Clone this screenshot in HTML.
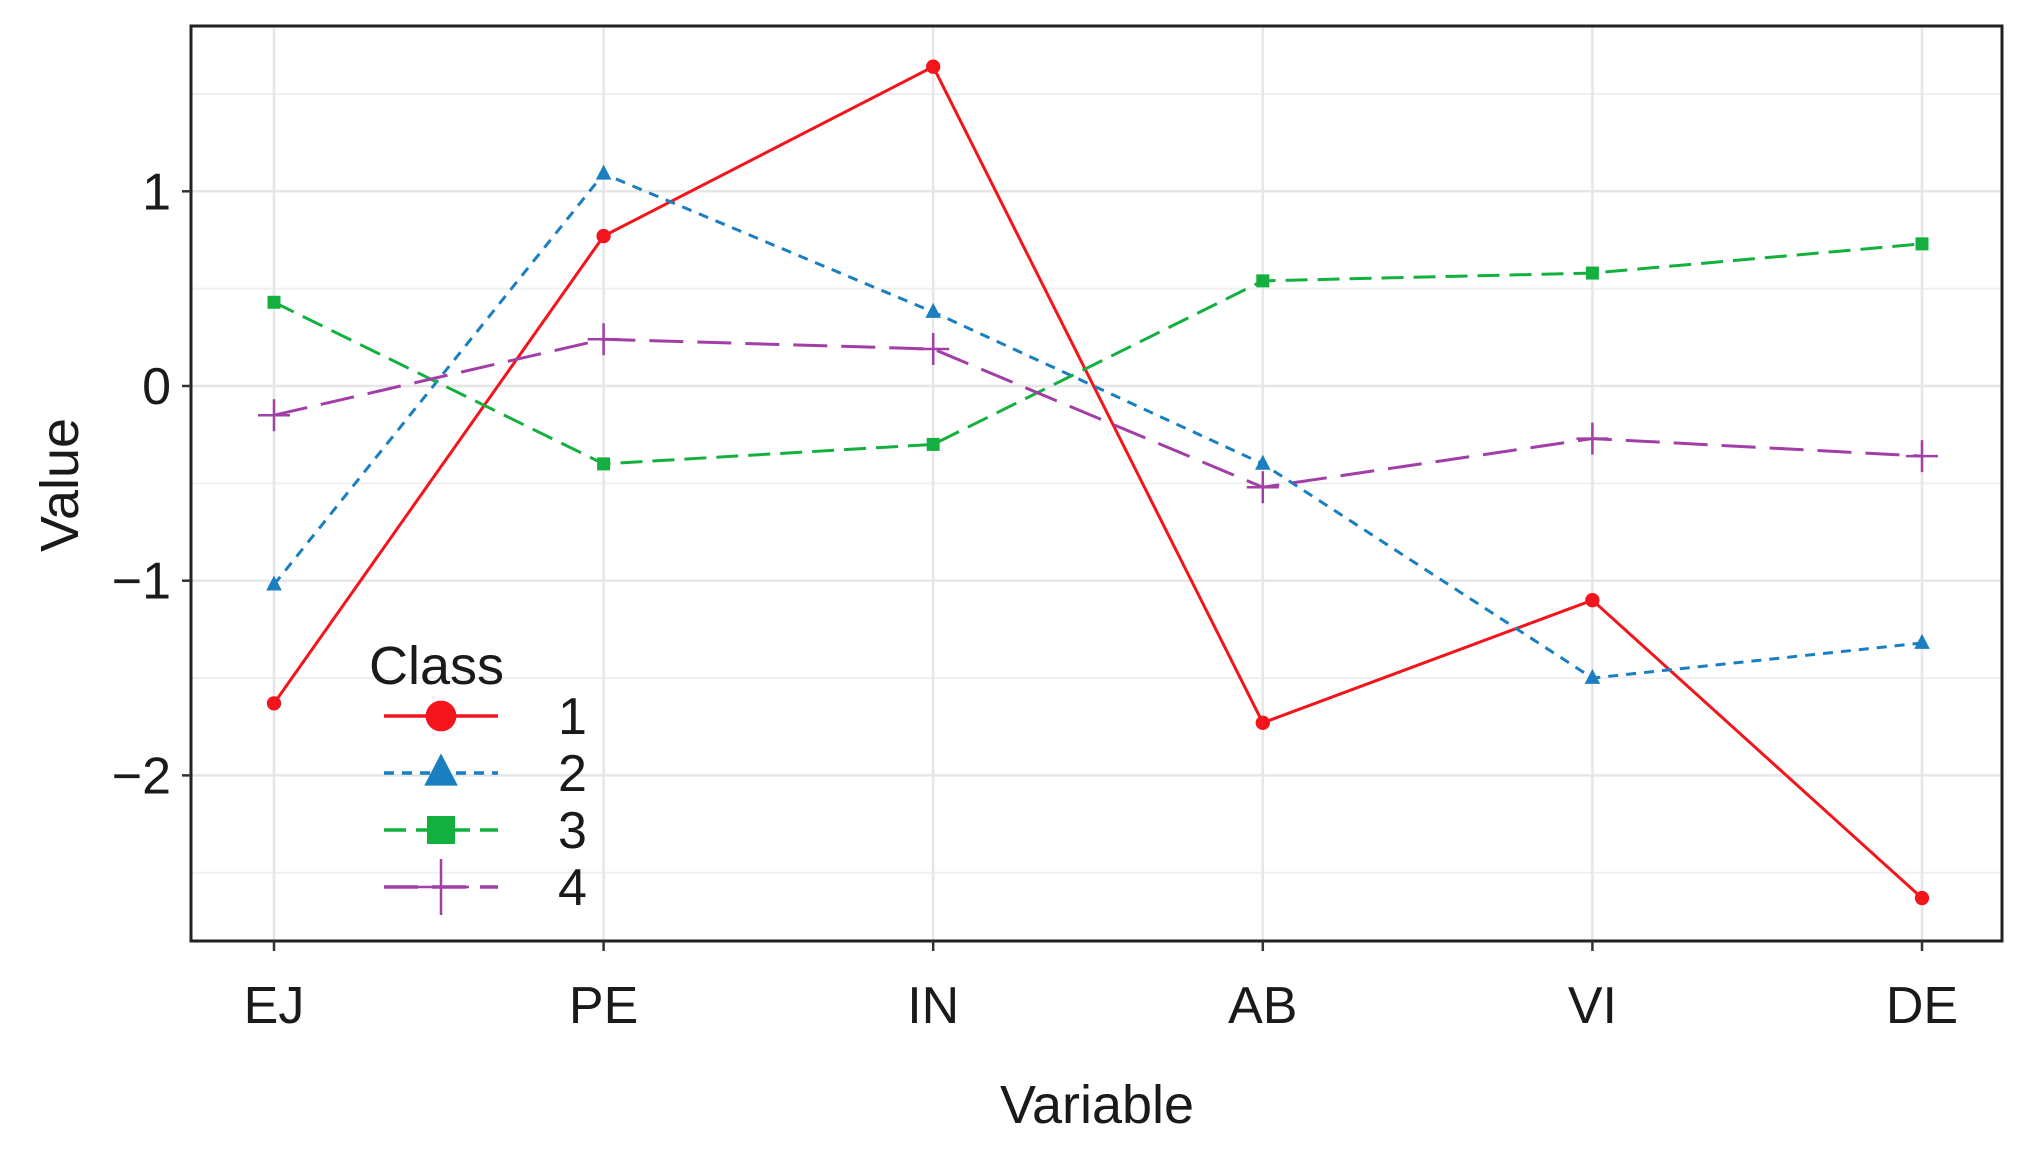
<!DOCTYPE html>
<html><head><meta charset="utf-8"><style>
body{margin:0;background:#fff}
svg{display:block;font-family:"Liberation Sans",sans-serif}
</style></head><body>
<svg id="c" width="2028" height="1168" viewBox="0 0 2028 1168"></svg>
<script>
const categories=["EJ","PE","IN","AB","VI","DE"];
const s1=[-1.63,0.77,1.64,-1.73,-1.1,-2.63];
const s2=[-1.02,1.09,0.38,-0.4,-1.5,-1.32];
const s3=[0.43,-0.4,-0.3,0.54,0.58,0.73];
const s4=[-0.15,0.24,0.19,-0.52,-0.27,-0.36];
const yTicks=[1,0,-1,-2];
const yTickLabels=["1","0","\u22121","\u22122"];
const minorTicks=[1.5,0.5,-0.5,-1.5,-2.5];
const classLabels=["1","2","3","4"];

const NS="http://www.w3.org/2000/svg";
const svg=document.getElementById('c');
const L=191,T=26,R=2002,B=941;
const x0=274,dx=329.6;
const X=i=>x0+i*dx;
const Y=v=>386-v*194.7;
function mk(tag,attrs,parent){const e=document.createElementNS(NS,tag);for(const k in attrs)e.setAttribute(k,attrs[k]);(parent||svg).appendChild(e);return e;}

minorTicks.forEach(v=>{const l=mk('line',{x1:L,x2:R,y1:Y(v),y2:Y(v),stroke:'#f0f0f0','stroke-width':2});

});
yTicks.forEach(v=>{const l=mk('line',{x1:L,x2:R,y1:Y(v),y2:Y(v),stroke:'#e6e6e6','stroke-width':2.5});

});
categories.forEach((c,i)=>{const l=mk('line',{x1:X(i),x2:X(i),y1:T,y2:B,stroke:'#e6e6e6','stroke-width':2.5});

});

const series=[
 {d:s1,c:'#f3141c',dash:'',m:'circle'},
 {d:s2,c:'#1a7fc0',dash:'10,8',m:'tri'},
 {d:s3,c:'#13b03f',dash:'22,10',m:'sq'},
 {d:s4,c:'#a13fa6',dash:'34,14',m:'plus'}];
function marker(type,x,y,c,s,g){
 if(type==='circle')return mk('circle',{cx:x,cy:y,r:s*0.55,fill:c},g);
 if(type==='tri')return mk('polygon',{points:`${x},${y-s*0.7} ${x-s*0.6},${y+s*0.45} ${x+s*0.6},${y+s*0.45}`,fill:c},g);
 if(type==='sq')return mk('rect',{x:x-s*0.5,y:y-s*0.5,width:s,height:s,fill:c},g);
 return mk('path',{d:`M${x-s},${y}H${x+s}M${x},${y-s}V${y+s}`,stroke:c,'stroke-width':2.5},g);
}
series.forEach((s,k)=>{
 const g=mk('g',{});
 
 
 const p=mk('polyline',{points:s.d.map((v,i)=>X(i)+','+Y(v)).join(' '),fill:'none',stroke:s.c,'stroke-width':3,'stroke-dasharray':s.dash},g);
 
 
 s.d.forEach((v,i)=>{const m=marker(s.m,X(i),Y(v),s.c,s.m==='plus'?16:13,g);
 
 });
});

const frame=mk('rect',{x:L,y:T,width:R-L,height:B-T,fill:'none',stroke:'#222','stroke-width':3});



yTicks.forEach((v,i)=>{
 const t=mk('line',{x1:L-9,x2:L,y1:Y(v),y2:Y(v),stroke:'#333','stroke-width':2.5});
 
 
 const tx=mk('text',{x:L-20,y:Y(v)+18,'text-anchor':'end','font-size':52,fill:'#1a1a1a'});
 tx.textContent=yTickLabels[i];
 
 
});
categories.forEach((c,i)=>{
 const t=mk('line',{x1:X(i),x2:X(i),y1:B,y2:B+10,stroke:'#333','stroke-width':2.5});
 
 
 const tx=mk('text',{x:X(i),y:1023,'text-anchor':'middle','font-size':52,fill:'#1a1a1a'});
 tx.textContent=c;
 
 
});
const xt=mk('text',{x:1097,y:1123,'text-anchor':'middle','font-size':54,fill:'#1a1a1a'});
xt.textContent='Variable';


const yt=mk('text',{x:0,y:0,transform:'translate(78,485) rotate(-90)','text-anchor':'middle','font-size':54,fill:'#1a1a1a'});
yt.textContent='Value';



const lg=mk('g',{});


const lt=mk('text',{x:369,y:684,'font-size':54,fill:'#1a1a1a'},lg);
lt.textContent='Class';


const ly=[716,773,830,887];
series.forEach((s,k)=>{
 const e=mk('g',{},lg);
 
 
 mk('line',{x1:384,x2:498,y1:ly[k],y2:ly[k],stroke:s.c,'stroke-width':3.5,'stroke-dasharray':s.dash},e);
 marker(s.m,441,ly[k],s.c,s.m==='plus'?28:28,e);
 const t=mk('text',{x:558,y:ly[k]+18,'font-size':52,fill:'#1a1a1a'},e);
 t.textContent=classLabels[k];
});
</script>
</body></html>
